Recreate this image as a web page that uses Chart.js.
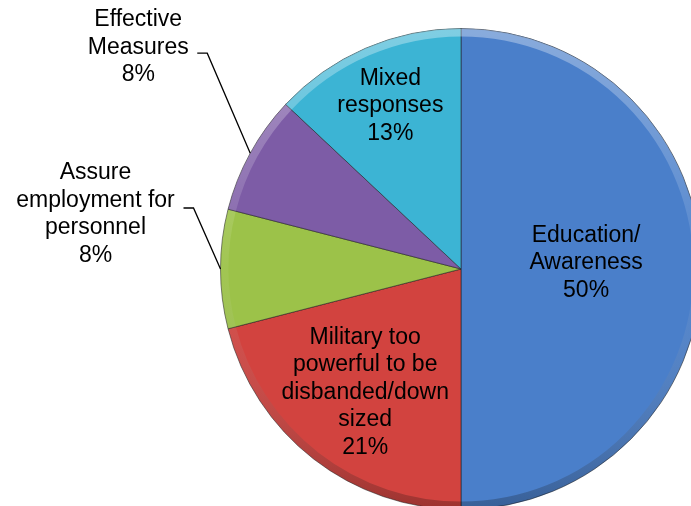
<!DOCTYPE html>
<html>
<head>
<meta charset="utf-8">
<script src="https://cdn.jsdelivr.net/npm/chart.js@4.4.1/dist/chart.umd.min.js"></script>
<style>
  html, body { margin: 0; padding: 0; background: #fff; overflow: hidden; }
  #wrap { position: absolute; left: 0; top: 0; width: 922px; height: 538px; }
</style>
</head>
<body>
<div id="wrap"><canvas id="pie" width="922" height="538"></canvas></div>
<script>
// data
var categories = ['Education/ Awareness', 'Military too powerful to be disbanded/down sized',
  'Assure employment for personnel', 'Effective Measures', 'Mixed responses'];
var values = [50, 21, 8, 8, 13];
var labelLines = [
  ['Education/', 'Awareness'],
  ['Military too', 'powerful to be', 'disbanded/down', 'sized'],
  ['Assure', 'employment for', 'personnel'],
  ['Effective', 'Measures'],
  ['Mixed', 'responses']
];
var sliceColors = ['#4a7fca', '#d2433f', '#9cc249', '#7d5ca6', '#3cb4d4'];

// where each label goes (inside: fraction of radius, outside: leader offsets)
var labelPlace = [
  { inside: true, r: 0.52, dy: -6 },
  { inside: true, r: 0.65, dy: 0 },
  { inside: false, dx: -27, dy: -61, tx: -88, ty: -35 },
  { inside: false, dx: -43, dy: -100, tx: -59, ty: -33 },
  { inside: true, r: 0.74, dy: 0 }
];

var FONT = '23px "Liberation Sans", Arial, sans-serif';
var LINE_H = 27.5;

// soft bevel along the rim, roughly like the office 3D style
var bevel = {
  id: 'bevel',
  afterDatasetsDraw: function(chart) {
    var ctx = chart.ctx;
    chart.getDatasetMeta(0).data.forEach(function(arc) {
      var p = arc.getProps(['x', 'y', 'startAngle', 'endAngle', 'outerRadius'], true);
      ctx.save();
      ctx.beginPath();
      ctx.moveTo(p.x, p.y);
      ctx.arc(p.x, p.y, p.outerRadius, p.startAngle, p.endAngle);
      ctx.closePath();
      ctx.clip();
      var g = ctx.createLinearGradient(p.x, p.y - p.outerRadius, p.x, p.y + p.outerRadius);
      g.addColorStop(0, 'rgba(255,255,255,0.35)');
      g.addColorStop(0.5, 'rgba(255,255,255,0.05)');
      g.addColorStop(1, 'rgba(0,0,0,0.25)');
      ctx.strokeStyle = g;
      ctx.lineWidth = 8;
      ctx.beginPath();
      ctx.arc(p.x, p.y, p.outerRadius - 4, p.startAngle, p.endAngle);
      ctx.stroke();
      ctx.restore();
    });
  }
};

var sliceLabels = {
  id: 'sliceLabels',
  afterDraw: function(chart) {
    var ctx = chart.ctx;
    var arcs = chart.getDatasetMeta(0).data;
    ctx.save();
    ctx.font = FONT;
    ctx.fillStyle = '#000';
    ctx.textAlign = 'center';
    ctx.textBaseline = 'middle';
    arcs.forEach(function(arc, i) {
      var p = arc.getProps(['x', 'y', 'startAngle', 'endAngle', 'outerRadius'], true);
      var mid = (p.startAngle + p.endAngle) / 2;
      var lines = labelLines[i].concat([values[i] + '%']);
      var pl = labelPlace[i];
      var cx, y0;
      if (pl.inside) {
        cx = p.x + Math.cos(mid) * p.outerRadius * pl.r;
        var cy = p.y + Math.sin(mid) * p.outerRadius * pl.r + pl.dy;
        y0 = cy - (lines.length - 1) * LINE_H / 2;
      } else {
        var ex = p.x + Math.cos(mid) * p.outerRadius;
        var ey = p.y + Math.sin(mid) * p.outerRadius;
        var bx = ex + pl.dx, by = ey + pl.dy;
        ctx.strokeStyle = '#000';
        ctx.lineWidth = 1.3;
        ctx.beginPath();
        ctx.moveTo(ex, ey);
        ctx.lineTo(bx, by);
        ctx.lineTo(bx - 10, by);
        ctx.stroke();
        cx = bx - 10 + pl.tx;
        y0 = by + pl.ty;
      }
      lines.forEach(function(t, k) {
        ctx.fillText(t, cx, y0 + k * LINE_H);
      });
    });
    ctx.restore();
  }
};

new Chart(document.getElementById('pie'), {
  type: 'pie',
  data: {
    labels: categories,
    datasets: [{
      data: values,
      backgroundColor: sliceColors,
      borderColor: 'rgba(30,30,30,0.55)',
      borderWidth: 1
    }]
  },
  options: {
    responsive: false,
    animation: false,
    layout: { padding: 28 },
    plugins: {
      legend: { display: false },
      tooltip: { enabled: false }
    }
  },
  plugins: [bevel, sliceLabels]
});
</script>
</body>
</html>
